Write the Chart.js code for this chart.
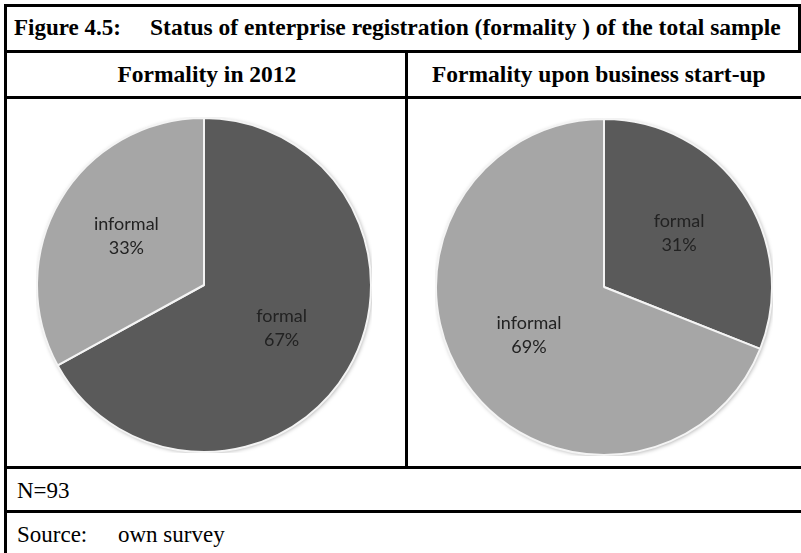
<!DOCTYPE html>
<html>
<head>
<meta charset="utf-8">
<script src="https://cdn.jsdelivr.net/npm/chart.js@4"></script>
<style>
  html, body { margin: 0; padding: 0; background: #fff; }
  #page { position: relative; width: 801px; height: 553px; overflow: hidden; font-family: "Liberation Serif", "Times New Roman", serif; color: #000; }
  .hline { position: absolute; height: 3px; background: #000; }
  .vline { position: absolute; width: 3px; background: #000; }
  .txt { position: absolute; white-space: nowrap; line-height: 1; }
  .bold { font-weight: bold; }
  canvas { position: absolute; }
</style>
</head>
<body>
<div id="page">
  <!-- table rules -->
  <div class="hline" style="left:4px; width:797px; top:4px;"></div>
  <div class="hline" style="left:4px; width:797px; top:50px;"></div>
  <div class="hline" style="left:4px; width:797px; top:96px;"></div>
  <div class="hline" style="left:4px; width:797px; top:466px;"></div>
  <div class="hline" style="left:4px; width:797px; top:510px;"></div>
  <div class="vline" style="left:4px; top:4px; height:549px;"></div>
  <div class="vline" style="left:798px; top:4px; height:48px;"></div>
  <div class="vline" style="left:405px; top:50px; height:418px;"></div>

  <div class="txt bold" style="left:14px; top:16px; font-size:23px;">Figure 4.5:</div>
  <div class="txt bold" style="left:150px; top:16px; font-size:23.5px;">Status of enterprise registration (formality ) of the total sample</div>

  <div class="txt bold" id="sub1" style="top:63px; font-size:23.5px;">Formality in 2012</div>
  <div class="txt bold" id="sub2" style="top:63px; font-size:23.5px;">Formality upon business start-up</div>

  <div class="txt" style="left:17px; top:479px; font-size:23px;">N=93</div>
  <div class="txt" style="left:17px; top:523px; font-size:23px;">Source:</div>
  <div class="txt" style="left:118px; top:523px; font-size:23px;">own survey</div>

  <canvas id="pie2012" width="336" height="336" style="left:36px; top:117px;"></canvas>
  <canvas id="pieStart" width="338" height="338" style="left:435px; top:118px;"></canvas>
</div>
<script>
// data
var categories2012 = ['formal', 'informal'];
var values2012 = [67, 33];
var categoriesStart = ['formal', 'informal'];
var valuesStart = [31, 69];
var colorByCategory = { formal: '#5a5a5a', informal: '#a6a6a6' };

// center the two column headers in their cells
function centerAt(id, cx) {
    var el = document.getElementById(id);
    el.style.left = (cx - el.offsetWidth / 2) + 'px';
}
centerAt('sub1', 207);
centerAt('sub2', 599);

// soft rim + shadow behind the pie, like the office chart
var rimShadow = {
    id: 'rimShadow',
    beforeDatasetsDraw: function(chart) {
        var arc = chart.getDatasetMeta(0).data[0];
        if (!arc) { return; }
        var p = arc.getProps(['x', 'y', 'outerRadius'], true);
        var ctx = chart.ctx;
        ctx.save();
        ctx.shadowColor = 'rgba(0,0,0,0.35)';
        ctx.shadowBlur = 4;
        ctx.shadowOffsetX = 1;
        ctx.shadowOffsetY = 1;
        ctx.beginPath();
        ctx.arc(p.x, p.y, p.outerRadius, 0, Math.PI * 2);
        ctx.fillStyle = '#eeeeee';
        ctx.fill();
        ctx.restore();
    }
};

// category name + percent inside each slice
var sliceLabels = {
    id: 'sliceLabels',
    afterDatasetsDraw: function(chart) {
        var ctx = chart.ctx;
        var labels = chart.data.labels;
        var values = chart.data.datasets[0].data;
        ctx.save();
        ctx.font = '18px Lato, "Open Sans", sans-serif';
        ctx.fillStyle = '#222222';
        ctx.textAlign = 'center';
        ctx.textBaseline = 'middle';
        chart.getDatasetMeta(0).data.forEach(function(arc, i) {
            var p = arc.getProps(['x', 'y', 'startAngle', 'endAngle', 'outerRadius'], true);
            var mid = (p.startAngle + p.endAngle) / 2;
            var r = p.outerRadius * 0.54;
            var x = p.x + Math.cos(mid) * r;
            var y = p.y + Math.sin(mid) * r - 3;
            ctx.fillText(labels[i], x, y - 12);
            ctx.fillText(values[i] + '%', x, y + 12);
        });
        ctx.restore();
    }
};

function makePie(elementId, labels, values) {
    return new Chart(document.getElementById(elementId).getContext('2d'), {
        type: 'pie',
        data: {
            labels: labels,
            datasets: [{
                data: values,
                backgroundColor: labels.map(function(l) { return colorByCategory[l]; }),
                borderColor: '#f4f4f4',
                borderWidth: 2,
                hoverOffset: 0
            }]
        },
        options: {
            responsive: false,
            animation: false,
            events: [],
            layout: { padding: 0 },
            plugins: {
                legend: { display: false },
                tooltip: { enabled: false }
            }
        },
        plugins: [rimShadow, sliceLabels]
    });
}

makePie('pie2012', categories2012, values2012);
makePie('pieStart', categoriesStart, valuesStart);
</script>
</body>
</html>
